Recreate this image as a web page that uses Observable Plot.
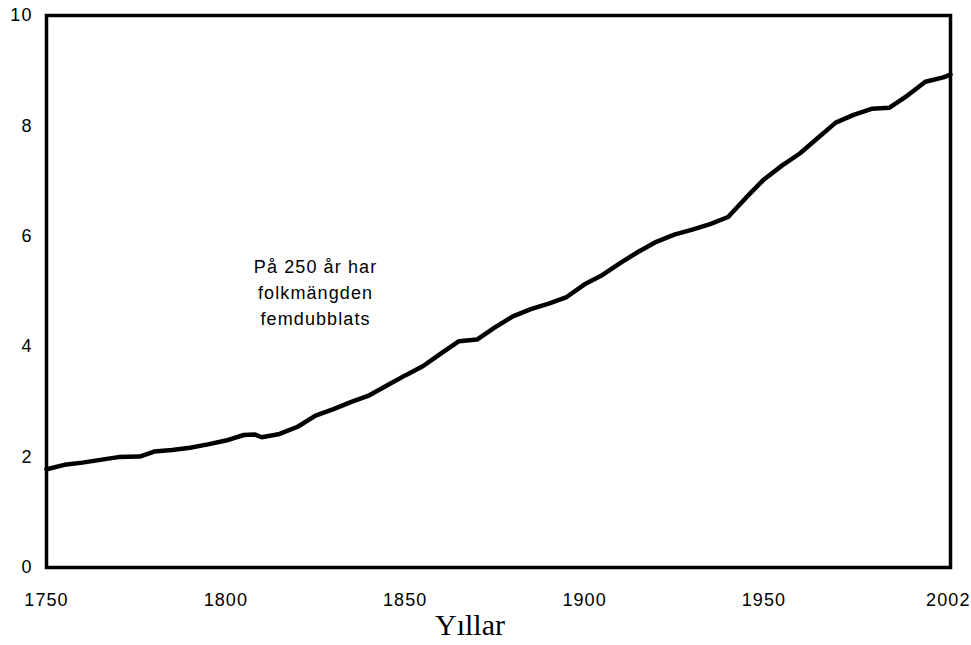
<!DOCTYPE html>
<html>
<head>
<meta charset="utf-8">
<script src="https://cdn.jsdelivr.net/npm/d3@7"></script>
<script src="https://cdn.jsdelivr.net/npm/@observablehq/plot@0.6"></script>
<style>
  html, body { margin: 0; padding: 0; background: #fff; overflow: hidden; }
  #wrap { position: relative; width: 971px; height: 645px; overflow: hidden; }
  #chart svg text { letter-spacing: 1.1px; }
  #xlabel { position: absolute; left: 0; width: 940px; top: 610px; line-height: 30px; text-align: center;
    font-family: "Liberation Serif", "Times New Roman", serif; font-size: 30px; color: #000; }
</style>
</head>
<body>
<div id="wrap"><div id="chart"></div><div id="xlabel">Yıllar</div></div>
<script>
const years = [1750,1755,1760,1765,1770,1776,1780,1785,1790,1795,1800,1805,1808,1810,1815,1820,1825,1830,1835,1840,1845,1850,1855,1860,1865,1870,1875,1880,1885,1890,1895,1900,1905,1910,1915,1920,1925,1930,1935,1940,1945,1950,1955,1960,1965,1970,1975,1980,1985,1990,1995,2000,2002];
const population = [1.78,1.86,1.90,1.95,2.00,2.01,2.10,2.13,2.17,2.23,2.30,2.40,2.41,2.36,2.42,2.55,2.75,2.87,3.00,3.12,3.30,3.48,3.65,3.88,4.10,4.13,4.35,4.55,4.68,4.78,4.90,5.13,5.30,5.52,5.72,5.90,6.03,6.12,6.22,6.35,6.70,7.03,7.28,7.50,7.78,8.06,8.20,8.31,8.33,8.55,8.80,8.88,8.93];
const xTicks = [1750,1800,1850,1900,1950];
const xLastTick = [2002];
const yTicks = [0,2,4,6,8,10];
const note = ["På 250 år har", "folkmängden", "femdubblats"];
const noteYear = 1825, noteValue = 5.01;

const data = years.map((y, i) => ({year: y, value: population[i]}));

const chart = Plot.plot({
  width: 971,
  height: 612,
  marginLeft: 46,
  marginRight: 21,
  marginTop: 15,
  marginBottom: 45,
  style: {fontFamily: "'Liberation Sans', Arial, Helvetica, sans-serif", fontSize: "18px", color: "#000", background: "#fff"},
  x: {domain: [1750, 2002], label: null},
  y: {domain: [0, 10], ticks: yTicks, label: null},
  marks: [
    Plot.axisX({ticks: xTicks, tickSize: 0, tickPadding: 26, tickFormat: d => String(d), label: null, fontSize: 18}),
    Plot.axisX({ticks: xLastTick, tickSize: 0, tickPadding: 26, tickFormat: d => String(d), label: null, fontSize: 18, textAnchor: "end", dx: 20}),
    Plot.axisY({ticks: yTicks, tickSize: 0, tickPadding: 14, label: null, fontSize: 18}),
    Plot.line(data, {x: "year", y: "value", stroke: "#000", strokeWidth: 4.5, strokeLinejoin: "round"}),
    Plot.text([note.join("\n")], {x: noteYear, y: noteValue, text: d => d, fontSize: 18, lineHeight: 1.45, textAnchor: "middle", fill: "#000"}),
    Plot.frame({stroke: "#000", strokeWidth: 3.5})
  ]
});
document.getElementById("chart").appendChild(chart);
</script>
</body>
</html>
